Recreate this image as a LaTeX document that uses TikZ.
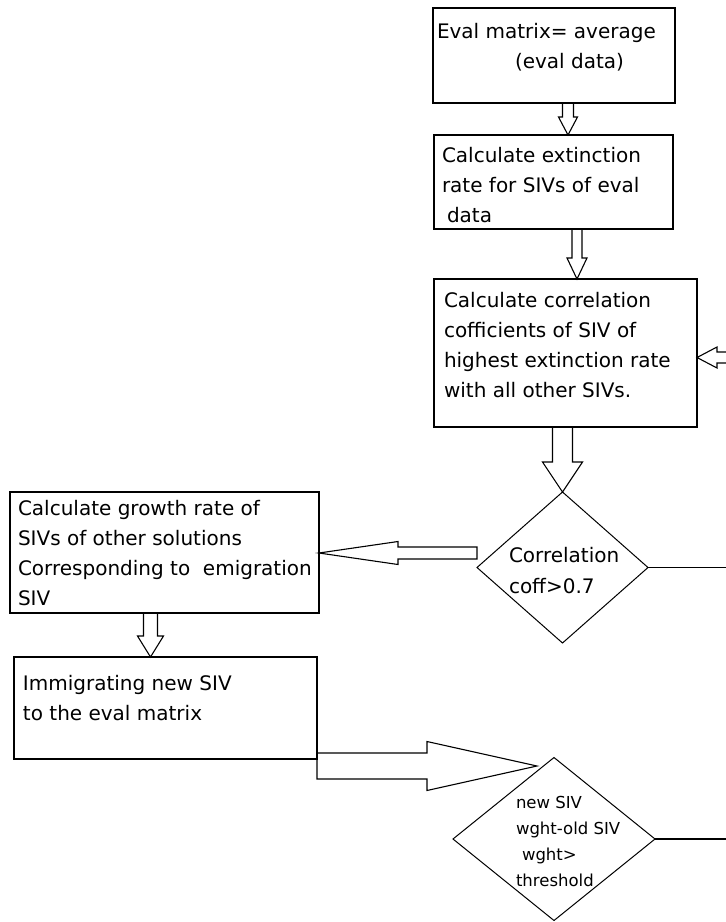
\documentclass[tikz,border=0pt]{standalone}
\usepackage{fontspec}
\setmainfont{DejaVu Sans}
\usetikzlibrary{shapes.geometric,calc}
\newcommand\boxtxt[5]{\parbox[c][#1][t]{#2}{\raggedright\leftskip=#3\fontsize{20pt}{30pt}\selectfont\rule{0pt}{#4}#5}}
\newcommand\dtxt[5]{\makebox[0pt][l]{\hspace*{#1}\smash{\raisebox{#2}{\parbox[t]{200pt}{\fontsize{#3}{#4}\selectfont\raggedright #5}}}}}
\newcommand\vblk[5]{\draw[blk] let \p1=#1, \p2=#2 in
  ({\x2-#3pt},\y1) -- ({\x2-#3pt},{\y2+#5pt}) -- ({\x2-#4pt},{\y2+#5pt}) -- (\p2)
  -- ({\x2+#4pt},{\y2+#5pt}) -- ({\x2+#3pt},{\y2+#5pt}) -- ({\x2+#3pt},\y1) -- cycle;}
\newcommand\hblk[5]{\draw[blk] let \p1=#1, \p2=#2 in
  (\x1,{\y2-#3pt}) -- ({\x2+(#5pt)},{\y2-#3pt}) -- ({\x2+(#5pt)},{\y2-#4pt}) -- (\p2)
  -- ({\x2+(#5pt)},{\y2+#4pt}) -- ({\x2+(#5pt)},{\y2+#3pt}) -- (\x1,{\y2+#3pt}) -- cycle;}
\begin{document}
\begin{tikzpicture}[x=1pt,y=-1pt,line width=1.2pt,
  boxnode/.style={draw,inner sep=0pt,outer sep=0pt,anchor=north west},
  dia/.style={draw,diamond,inner sep=0pt,outer sep=0pt,line width=1pt},
  blk/.style={draw,line width=1.1pt,line join=miter},
  plain/.style={draw,line width=1.1pt}]
\useasboundingbox (0,0) rectangle (726,922);
% boxes
\node[boxnode] (b1) at (433,8) {\boxtxt{95pt}{242pt}{4pt}{30pt}{\mbox{Eval matrix= average}\\\mbox{\hspace*{78pt}(eval data)}}};
\node[boxnode] (b2) at (434,135) {\boxtxt{94pt}{239pt}{8pt}{27pt}{\mbox{Calculate extinction}\\\mbox{rate for SIVs of eval}\\\mbox{\hspace*{5pt}data}}};
\node[boxnode] (b3) at (434,279) {\boxtxt{148pt}{263pt}{10pt}{28pt}{\mbox{Calculate correlation}\\\mbox{cofficients of SIV of}\\\mbox{highest extinction rate}\\\mbox{with all other SIVs.}}};
\node[boxnode] (b4) at (10,492) {\boxtxt{121pt}{309pt}{8pt}{23pt}{\mbox{Calculate growth rate of}\\\mbox{SIVs of other solutions}\\\mbox{Corresponding to\ \ emigration}\\\mbox{SIV}}};
\node[boxnode] (b5) at (14,657) {\boxtxt{102pt}{303pt}{9pt}{33pt}{\mbox{Immigrating new SIV}\\\mbox{to the eval matrix}}};
% decisions
\node[dia,minimum width=171pt,minimum height=151pt] (d1) at (562.5,567.5) {\dtxt{-53.5pt}{5.5pt}{20pt}{31pt}{Correlation\\coff>0.7}};
\node[dia,minimum width=202pt,minimum height=163pt] (d2) at (554,839) {\dtxt{-38pt}{31pt}{16.5pt}{26pt}{new SIV\\wght-old SIV\\\hspace*{6pt}wght>\\threshold}};
% helper coordinates
\coordinate (x1) at (568,0);
\coordinate (x2) at (577,0);
\coordinate (x4) at (150.5,0);
\coordinate (t5) at (537,766);
\coordinate (y6) at (0,553);
\coordinate (e1) at (726,567.5);
\coordinate (e2) at (726,839);
\coordinate (e3) at (732,357.5);
% block arrows
\vblk{(b1.south -| x1)}{(b2.north -| x1)}{5.5}{9.5}{18}
\vblk{(b2.south -| x2)}{(b3.north -| x2)}{5}{10}{21}
\vblk{(b3.south -| d1.north)}{(d1.north)}{10}{20}{30}
\vblk{(b4.south -| x4)}{(b5.north -| x4)}{7}{13}{21}
\hblk{(b5.east |- t5)}{(t5)}{13}{24.5}{-110}
\hblk{(d1.west |- y6)}{(b4.east |- y6)}{6}{11.5}{79}
\hblk{(e3)}{(b3.east |- e3)}{5.5}{10.5}{20}
% plain lines
\draw[plain] (d1.east) -- (e1);
\draw[plain] (d2.east) -- (e2);
\end{tikzpicture}
\end{document}
